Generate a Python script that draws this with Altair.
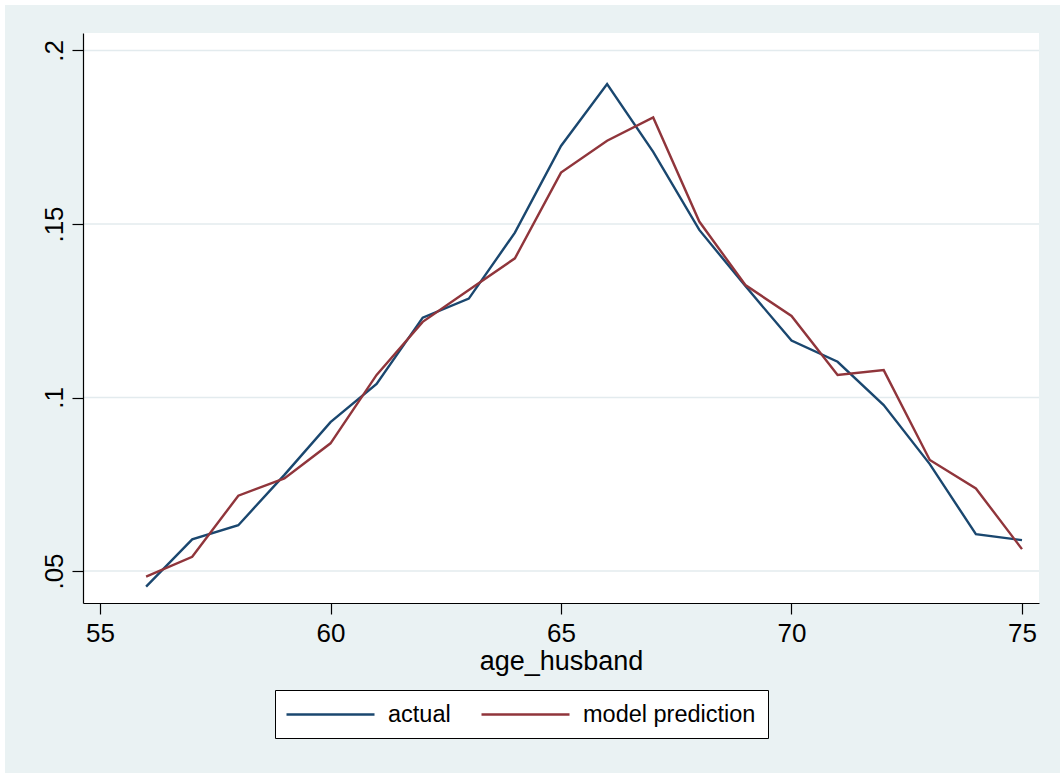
import altair as alt
import pandas as pd

# ---- data ----
age = [56, 57, 58, 59, 60, 61, 62, 63, 64, 65, 66, 67, 68, 69, 70, 71, 72, 73, 74, 75]
actual = [0.0455, 0.0591, 0.0632, 0.0777, 0.0929, 0.1039, 0.1230, 0.1285, 0.1475, 0.1725,
          0.1903, 0.1708, 0.1483, 0.1321, 0.1164, 0.1103, 0.0978, 0.0808, 0.0606, 0.0589]
model = [0.0484, 0.0541, 0.0717, 0.0767, 0.0868, 0.1065, 0.1218, 0.1310, 0.1401, 0.1648,
         0.1740, 0.1807, 0.1507, 0.1324, 0.1235, 0.1065, 0.1079, 0.0820, 0.0738, 0.0563]
series_names = ["actual", "model prediction"]
series_colors = ["#1a476f", "#90353b"]
x_ticks = [55, 60, 65, 70, 75]
y_ticks = [0.05, 0.10, 0.15, 0.20]

FONT = "Liberation Sans"
BG = "#eaf2f3"
W, H = 956, 570

df = pd.DataFrame({
    "age_husband": age * 2,
    "value": actual + model,
    "series": [series_names[0]] * len(age) + [series_names[1]] * len(age),
})
grid_df = pd.DataFrame({"value": y_ticks})

xscale = alt.Scale(domain=[54.631, 75.369], nice=False, zero=False)
yscale = alt.Scale(domain=[0.04078, 0.20504], nice=False, zero=False)

y_axis = alt.Axis(values=y_ticks, grid=False, tickSize=11, tickColor="black",
                  domainColor="black", domainWidth=1.2, tickWidth=1.2,
                  labelFontSize=26, labelFont=FONT, labelColor="black",
                  labelAngle=-90, labelAlign="center", labelBaseline="alphabetic",
                  labelPadding=10,
                  labelExpr="substring(format(datum.value, '.2~f'), 1)",
                  zindex=1)

outer = alt.Chart(alt.Data(values=[{}])).mark_rect(fill=BG, clip=False).encode(
    x=alt.value(-78), x2=alt.value(1060 - 83), y=alt.value(-28), y2=alt.value(773 - 33)
)
inner = alt.Chart(alt.Data(values=[{}])).mark_rect(fill="white", clip=False).encode(
    x=alt.value(0), x2=alt.value(W), y=alt.value(0), y2=alt.value(H)
)
grid = alt.Chart(grid_df).mark_rule(color="#e3ebee", strokeWidth=1.6).encode(
    y=alt.Y("value:Q", scale=yscale, axis=y_axis, title=None)
)

lines = alt.Chart(df).mark_line(strokeWidth=2.4).encode(
    x=alt.X("age_husband:Q", scale=xscale, title="age_husband",
            axis=alt.Axis(values=x_ticks, grid=False, tickSize=11, tickColor="black",
                          domainColor="black", domainWidth=1.2, tickWidth=1.2,
                          labelFontSize=26, labelFont=FONT, labelColor="black",
                          labelPadding=6, titleFontSize=27, titleFont=FONT,
                          titleFontWeight="normal", titleColor="black", titlePadding=2,
                          zindex=1)),
    y=alt.Y("value:Q", scale=yscale, title=None, axis=y_axis),
    color=alt.Color("series:N",
                    scale=alt.Scale(domain=series_names, range=series_colors),
                    legend=alt.Legend(orient="none", legendX=192, legendY=657,
                                      direction="horizontal", title=None,
                                      symbolType="M-4,0H4", symbolSize=484,
                                      symbolStrokeWidth=2.5, symbolOffset=31,
                                      labelFontSize=23.5, labelLimit=500,
                                      labelFont=FONT, labelColor="black",
                                      strokeColor="black", fillColor="white",
                                      padding=12, columnPadding=25, labelOffset=45)),
    detail="series:N",
)

chart = alt.layer(outer, inner, grid, lines).properties(
    width=W, height=H,
    autosize=alt.AutoSizeParams(type="none"),
    padding={"left": 83, "top": 33, "right": 21, "bottom": 170},
    background="white",
).configure_view(stroke=None, fill=None)

chart.save("out.html", embed_options={"renderer": "svg", "actions": False})
